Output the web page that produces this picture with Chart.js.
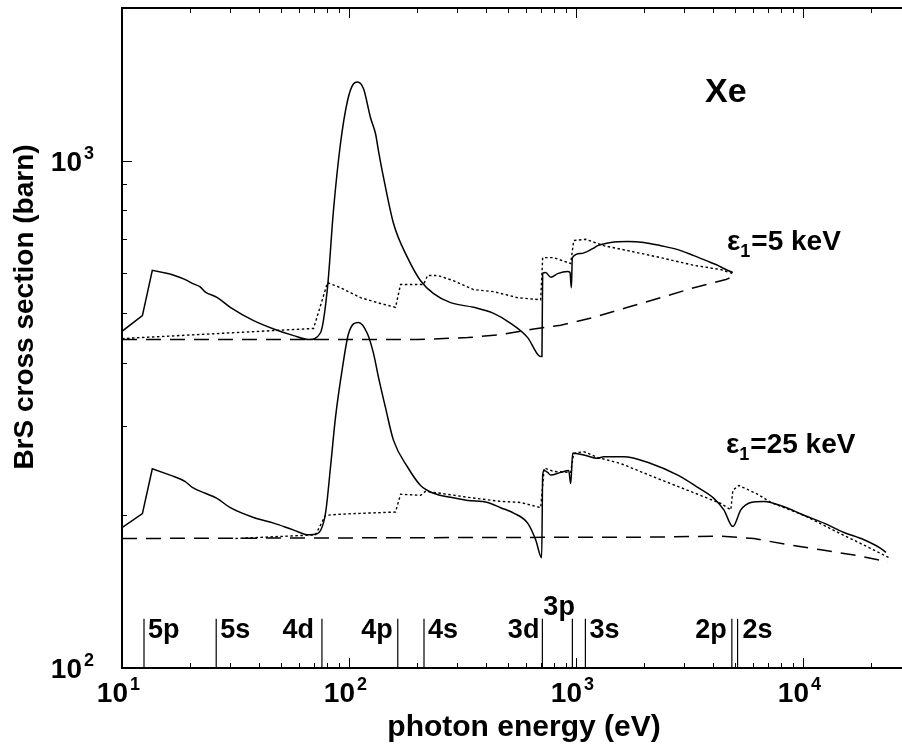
<!DOCTYPE html>
<html>
<head>
<meta charset="utf-8">
<title>Xe BrS cross section</title>
<script src="https://cdn.jsdelivr.net/npm/chart.js@4.4.0/dist/chart.umd.min.js"></script>
<style>
  html, body { margin: 0; padding: 0; background: #fff; }
  #wrap { position: relative; width: 902px; height: 749px; }
</style>
</head>
<body>
<div id="wrap"><canvas id="chart"></canvas></div>
<script>
// photon energy (eV) and BrS cross section (barn)

// eps1 = 5 keV
const solid5E = [10, 12.3, 13.6, 16.3, 19.0, 20.4, 22.1, 23.3, 26.2, 30.0, 38.0, 46.6, 57.1, 66.5, 74.9, 80.4, 85.4, 91.7, 98.5, 104.7,
  109, 115.9, 124.4, 130.9, 134.9, 142, 157.1, 181.1, 206.7, 235.9, 280.2, 354, 433.6, 515.4, 612.4, 684.8, 708, 713, 735, 774,
  830, 919, 941, 954, 964, 1049, 1185, 1247, 1422, 1690, 1988, 2363, 2808, 3304, 3926, 4216, 4480, 4909];
const solid5 = [461, 495, 608, 598, 583, 573, 564, 551, 538, 514, 484, 466, 452, 444, 458, 562, 797, 1080, 1313, 1418,
  1430, 1386, 1215, 1130, 1045, 926, 752, 644, 580, 547, 525, 514, 500, 478, 448, 413, 411, 600, 602, 589,
  599, 605, 602, 562, 644, 656, 671, 680, 690, 693, 690, 680, 668, 650, 630, 622, 613, 602];

const dot5E = [10, 69.8, 80.4, 91.7, 112.4, 137.7, 160.3, 168.7, 206.7, 213, 221.9, 245.6, 288.9, 354, 433.6, 553.3, 699, 713.3,
  797.5, 947.8, 977, 1104, 1325, 1690, 2363, 3304, 4345, 4909];
const dot5 = [446, 467, 575, 562, 537, 523, 514, 570, 570, 570, 594, 594, 580, 557, 552, 537, 532, 644,
  644, 627, 696, 700, 680, 665, 644, 622, 610, 599];

const dash5E = [10, 200, 333, 466, 651, 856, 1197, 1690, 2363, 3304, 4572, 4909];
const dash5 = [444, 444, 448, 454, 466, 474, 491, 514, 537, 562, 583, 591];

// eps1 = 25 keV
const solid25E = [10, 12.3, 13.6, 16.3, 19.0, 20.4, 23.3, 26.2, 30.0, 38.0, 46.6, 57.1, 66.5, 72.6, 78.8, 82.9, 87.2, 93.6, 99.5, 110.1,
  120.6, 128.2, 134.9, 144.8, 157.1, 181.1, 206.7, 235.9, 280.2, 333.2, 408, 465.6, 531.3, 612.4, 664.2, 706, 713.3, 724.2, 750.4, 773.6,
  856.2, 928.7, 947.8, 967, 1081, 1247, 1325, 1623, 2135, 2808, 3441, 4048, 4480, 4909, 5324, 5893, 6723, 7219, 8579, 10090,
  12370, 15150, 18560, 22060, 23210];
const solid25 = [189, 201.5, 247, 240, 233, 227, 221, 216, 207, 198, 193, 187, 183, 184, 202, 249, 312, 391, 456, 480,
  456, 417, 374, 326, 281, 249, 229, 221, 217, 214, 212, 207, 202, 193, 179, 165, 240, 245, 243, 240,
  243, 245, 231, 265, 263, 259, 261, 261, 253, 240, 227, 216, 205, 190, 205, 212, 213, 212, 206.5, 200,
  193, 185, 179, 172, 169];

const dot25E = [31.6, 71.2, 78.8, 91.7, 120.6, 160.3, 168.7, 206.7, 217.5, 253.2, 333.2, 465.6, 570.4, 699, 724.2, 797.5, 947.8,
  977, 1081, 1247, 1574, 2201, 3108, 4345, 4810, 4909, 5217, 6327, 7219, 10090, 14250, 19930, 23920];
const dot25 = [180, 183, 200, 201, 202, 203, 220, 219, 223, 221, 217, 213, 212, 207, 248, 244, 243,
  265, 267, 260, 253, 238, 224, 211, 205, 224, 229, 220, 212, 200, 185, 172, 165];

const dash25E = [10, 1000, 1871, 4345, 6075, 8579, 11990, 16770, 23680];
const dash25 = [180, 181, 181, 182, 180, 175, 171, 167, 162];

// ionization edges (eV)
const edgeE = [12.5, 26, 76, 164, 214, 711, 964, 1100, 4860, 5150];
const edgeNames = ['5p', '5s', '4d', '4p', '4s', '3d', '3p', '3s', '2p', '2s'];
const edgeTop = 125;

const xTickValues = [10, 100, 1000, 10000];
const xTickExp = ['1', '2', '3', '4'];
const yTickValues = [100, 1000];
const yTickExp = ['2', '3'];

const FONT = '"Liberation Sans", Arial, Helvetica, sans-serif';

const pts = (xs, ys) => xs.map((v, i) => ({x: v, y: ys[i]}));

const lineSet = (xs, ys, dash, width, smooth) => ({
  data: pts(xs, ys),
  borderColor: '#000',
  borderWidth: width,
  borderDash: dash,
  pointRadius: 0,
  fill: false,
  tension: 0,
  cubicInterpolationMode: smooth ? 'monotone' : 'default'
});

// the sharp 5p onset is drawn straight, the rest of each solid curve smoothed
const CUT = 3;
const datasets = [
  lineSet(dash5E, dash5, [15, 9], 1.5),
  lineSet(dot5E, dot5, [2.5, 2.5], 1.4),
  lineSet(solid5E.slice(0, CUT + 1), solid5.slice(0, CUT + 1), [], 1.5),
  lineSet(solid5E.slice(CUT), solid5.slice(CUT), [], 1.5, true),
  lineSet(dash25E, dash25, [15, 9], 1.5),
  lineSet(dot25E, dot25, [2.5, 2.5], 1.4),
  lineSet(solid25E.slice(0, CUT + 1), solid25.slice(0, CUT + 1), [], 1.5),
  lineSet(solid25E.slice(CUT), solid25.slice(CUT), [], 1.5, true)
];
edgeE.forEach(e => datasets.push(lineSet([e, e], [100, edgeTop], [], 1.2)));

// superscript helper: "10" then a small exponent
const drawPower = (ctx, xRight, base, exp) => {
  ctx.font = `bold 28px ${FONT}`;
  ctx.textAlign = 'right';
  ctx.fillText('10', xRight, base);
  ctx.font = `bold 18px ${FONT}`;
  ctx.textAlign = 'left';
  ctx.fillText(exp, xRight + 2, base - 12);
};

// "ε" + subscript 1 + rest
const drawEps = (ctx, x0, base, rest) => {
  ctx.textAlign = 'left';
  ctx.font = `bold 28px ${FONT}`;
  ctx.fillText('ε', x0, base);
  let x1 = x0 + ctx.measureText('ε').width;
  ctx.font = `bold 18px ${FONT}`;
  ctx.fillText('1', x1, base + 7);
  x1 += ctx.measureText('1').width + 1;
  ctx.font = `bold 28px ${FONT}`;
  ctx.fillText(rest, x1, base);
};

const decorations = {
  id: 'decorations',
  afterDraw(chart) {
    const {ctx, chartArea: a, scales: {x, y}} = chart;
    ctx.save();
    ctx.strokeStyle = '#000';
    ctx.fillStyle = '#000';

    // frame
    ctx.lineWidth = 2;
    ctx.beginPath();
    ctx.moveTo(a.right + 2, a.top);
    ctx.lineTo(a.left, a.top);
    ctx.lineTo(a.left, a.bottom);
    ctx.lineTo(a.right + 2, a.bottom);
    ctx.stroke();

    // ticks, pointing inwards
    ctx.lineWidth = 1;
    ctx.beginPath();
    for (let e = 1; e <= 4; e++) {
      for (let m = 1; m <= 9; m++) {
        const v = m * Math.pow(10, e);
        if (v <= x.min || v > x.max) continue;
        const px = Math.round(x.getPixelForValue(v)) + 0.5;
        const len = m === 1 ? 10 : 5;
        ctx.moveTo(px, a.bottom); ctx.lineTo(px, a.bottom - len);
        ctx.moveTo(px, a.top); ctx.lineTo(px, a.top + len);
      }
    }
    for (let e = 2; e <= 3; e++) {
      for (let m = 1; m <= 9; m++) {
        const v = m * Math.pow(10, e);
        if (v <= y.min || v > y.max) continue;
        const py = Math.round(y.getPixelForValue(v)) + 0.5;
        const len = m === 1 ? 10 : 5;
        ctx.moveTo(a.left, py); ctx.lineTo(a.left + len, py);
      }
    }
    ctx.stroke();

    // tick labels
    ctx.textBaseline = 'alphabetic';
    xTickValues.forEach((v, i) => {
      drawPower(ctx, x.getPixelForValue(v) + 6, a.bottom + 34, xTickExp[i]);
    });
    yTickValues.forEach((v, i) => {
      drawPower(ctx, a.left - 40, y.getPixelForValue(v) + 10, yTickExp[i]);
    });

    // axis titles
    ctx.font = `bold 30px ${FONT}`;
    ctx.textAlign = 'center';
    ctx.fillText('photon energy (eV)', 524, a.bottom + 68);
    ctx.save();
    ctx.translate(33, 307);
    ctx.rotate(-Math.PI / 2);
    ctx.font = `bold 28px ${FONT}`;
    ctx.fillText('BrS cross section (barn)', 0, 0);
    ctx.restore();

    // annotations
    ctx.font = `bold 34px ${FONT}`;
    ctx.textAlign = 'left';
    ctx.fillText('Xe', 705, 102);
    drawEps(ctx, 727, 250, '=5 keV');
    drawEps(ctx, 726, 453, '=25 keV');

    // edge labels
    const place = {
      '5p': ['left', 4], '5s': ['left', 4], '4d': ['right', -8], '4p': ['right', -5], '4s': ['left', 4],
      '3d': ['right', -3], '3p': ['left', 0], '3s': ['left', 4], '2p': ['right', -5], '2s': ['left', 5]
    };
    ctx.font = `bold 27px ${FONT}`;
    const labelBase = y.getPixelForValue(edgeTop) + 19;
    edgeNames.forEach((name, i) => {
      const [align, dx] = place[name];
      let px = x.getPixelForValue(edgeE[i]) + dx;
      let base = labelBase;
      if (name === '3p') {
        px = x.getPixelForValue(edgeE[i - 1]) + 1;
        base = labelBase - 23;
      }
      ctx.textAlign = align;
      ctx.fillText(name, px, base);
    });

    ctx.restore();
  }
};

new Chart(document.getElementById('chart'), {
  type: 'line',
  data: {datasets},
  options: {
    responsive: true,
    maintainAspectRatio: false,
    animation: false,
    layout: {padding: {left: 122, top: 8, right: 0, bottom: 81}},
    plugins: {legend: {display: false}, tooltip: {enabled: false}},
    scales: {
      x: {type: 'logarithmic', min: 10, max: 27300, display: false},
      y: {type: 'logarithmic', min: 100, max: 2000, display: false}
    }
  },
  plugins: [decorations]
});
</script>
</body>
</html>
